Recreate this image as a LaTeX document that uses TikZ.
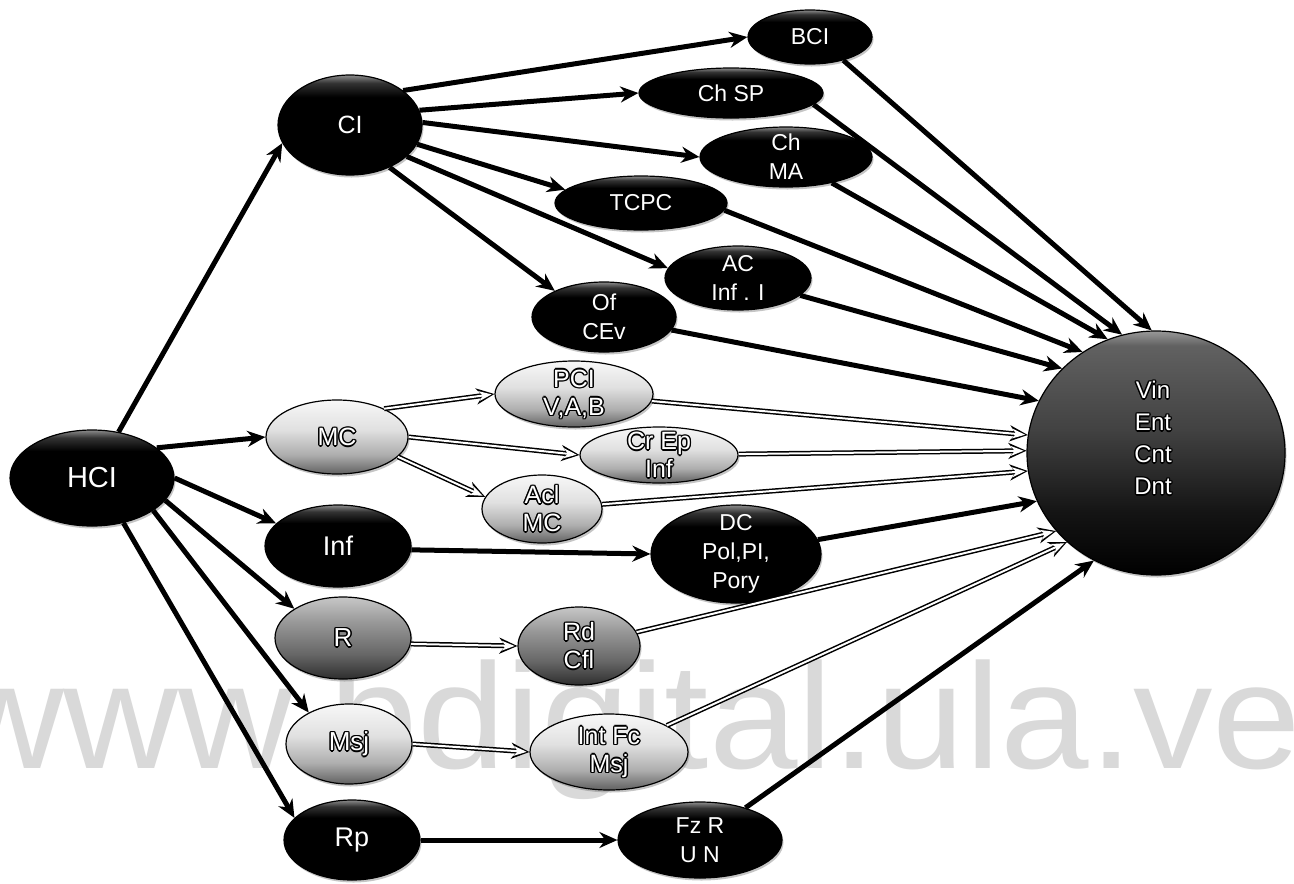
\documentclass[tikz,border=0pt]{standalone}
\usepackage{fontspec}
\setmainfont{Liberation Sans}
\usetikzlibrary{shapes.geometric,arrows.meta,shadows}

\pgfdeclareverticalshading{dkshade}{100bp}{color(0bp)=(black); color(25bp)=(black); color(64bp)=(black); color(71bp)=(black!80); color(75bp)=(black!45); color(100bp)=(black!45)}
\pgfdeclareverticalshading{ltshade}{100bp}{color(0bp)=(black!62); color(25bp)=(black!62); color(38bp)=(black!32); color(55bp)=(black!12); color(75bp)=(black!3); color(100bp)=(black!3)}
\pgfdeclareverticalshading{mdshade}{100bp}{color(0bp)=(black!82); color(25bp)=(black!82); color(40bp)=(black!60); color(60bp)=(black!40); color(75bp)=(black!22); color(100bp)=(black!22)}
\pgfdeclareverticalshading{bigshade}{100bp}{color(0bp)=(black); color(25bp)=(black); color(38bp)=(black!92); color(55bp)=(black!74); color(72bp)=(black!62); color(75bp)=(black!40); color(100bp)=(black!40)}

\newcommand\olt[1]{{\leavevmode
 \rlap{\color{black}\kern-1.4pt#1}%
 \rlap{\color{black}\kern1.4pt#1}%
 \rlap{\color{black}\raisebox{1.4pt}{#1}}%
 \rlap{\color{black}\raisebox{-1.4pt}{#1}}%
 \rlap{\color{black}\kern-1pt\raisebox{1pt}{#1}}%
 \rlap{\color{black}\kern1pt\raisebox{1pt}{#1}}%
 \rlap{\color{black}\kern-1pt\raisebox{-1pt}{#1}}%
 \rlap{\color{black}\kern1pt\raisebox{-1pt}{#1}}%
 {\color{white}#1}}}

\begin{document}
\begin{tikzpicture}[x=1pt,y=-1pt,
  base/.style={ellipse, inner sep=0pt, line width=1.2pt, draw=black,
    drop shadow={shadow xshift=1.5pt, shadow yshift=-2.5pt, opacity=0.45}},
  dk/.style={base, shade, shading=dkshade},
  lt/.style={base, shade, shading=ltshade},
  md/.style={base, shade, shading=mdshade},
  dtxt/.style={text=white, align=center, inner sep=0pt, font=\fontsize{23}{29}\selectfont},
  ltxt/.style={align=center, inner sep=0pt, font=\fontsize{25}{28}\selectfont},
  darr/.style={draw=black, line width=5pt, -{Stealth[length=18pt,width=16pt]}},
  larr/.style={draw=black, line width=5pt, -{Stealth[length=18pt,width=16pt]},
    postaction={draw=white, line width=2pt, -{Stealth[length=13pt,width=10pt]}, shorten >=2.8pt}},
]
\useasboundingbox (0,0) rectangle (1294,884);
\fill[white] (0,0) rectangle (1294,884);

% watermark
\node[anchor=base west, text=black!15, inner sep=0pt, font=\fontsize{150}{150}\selectfont] (wm) at (-51,768) {\scalebox{1.06}[1]{www.bdigital.ula.ve}};

% shapes
\node[dk, minimum width=164pt, minimum height=96pt] (HCl) at (92,478) {};
\node[dk, minimum width=144pt, minimum height=100pt] (CI) at (350,125) {};
\node[dk, minimum width=124pt, minimum height=54pt] (BCl) at (810,37) {};
\node[dk, minimum width=184pt, minimum height=50pt] (ChSP) at (731,93) {};
\node[dk, minimum width=172pt, minimum height=60pt] (ChMA) at (786,157) {};
\node[dk, minimum width=172pt, minimum height=54pt] (TCPC) at (641,203) {};
\node[dk, minimum width=146pt, minimum height=64pt] (AC) at (738,278) {};
\node[dk, minimum width=144pt, minimum height=70pt] (Of) at (604,317) {};
\node[lt, minimum width=158pt, minimum height=66pt] (PCl) at (574,394) {};
\node[lt, minimum width=158pt, minimum height=56pt] (CrEp) at (659,455) {};
\node[lt, minimum width=120pt, minimum height=68pt] (Acl) at (542,509) {};
\node[dk, minimum width=170pt, minimum height=98pt] (DC) at (736,554) {};
\node[lt, minimum width=142pt, minimum height=74pt] (MC) at (337,437) {};
\node[dk, minimum width=146pt, minimum height=82pt] (Inf) at (338,546) {};
\node[md, minimum width=136pt, minimum height=82pt] (R) at (343,638) {};
\node[md, minimum width=122pt, minimum height=78pt] (Rd) at (579,646) {};
\node[lt, minimum width=126pt, minimum height=80pt] (Msj) at (349,744) {};
\node[lt, minimum width=158pt, minimum height=76pt] (IntFc) at (609,752) {};
\node[dk, minimum width=136pt, minimum height=80pt] (Rp) at (352,840) {};
\node[dk, minimum width=164pt, minimum height=76pt] (FzR) at (700,840) {};
\node[base, shade, shading=bigshade, minimum width=258pt, minimum height=244pt] (V) at (1156,453) {};

% connectors from HCl
\draw[darr] (HCl.60) -- (CI.195);
\draw[darr] (HCl.25) -- (MC.west);
\draw[darr] (HCl.east) -- (Inf.160);
\draw[darr] (HCl.-17) -- (R.149);
\draw[darr] (HCl.-28) -- (Msj.142);
\draw[darr] (HCl.-55) -- (Rp.159);
% from CI
\draw[darr] (CI.33) -- (BCl.west);
\draw[darr] (CI.12) -- (ChSP.west);
\draw[darr] (CI.2) -- (ChMA.west);
\draw[darr] (CI.-16) -- (TCPC.170);
\draw[darr] (CI.-29) -- (AC.172);
\draw[darr] (CI.-47) -- (Of.152);
% from MC
\draw[larr] (MC.31) -- (PCl.west);
\draw[larr] (MC.east) -- (CrEp.west);
\draw[larr] (MC.-18) -- (Acl.168);
% middle row
\draw[darr] (Inf.-3) -- (DC.west);
\draw[larr] (R.-5) -- (Rd.west);
\draw[larr] (Msj.east) -- (IntFc.west);
\draw[darr] (Rp.east) -- (FzR.west);
% into V
\draw[darr] (BCl.-35) -- (V.92);
\draw[darr] (ChSP.-8) -- (V.106);
\draw[darr] (ChMA) -- (V.113);
\draw[darr] (TCPC.-5) -- (V.126);
\draw[darr] (AC) -- (V.138);
\draw[darr] (Of) -- (V.156);
\draw[larr] (PCl) -- (V.172);
\draw[larr] (CrEp) -- (V.179);
\draw[larr] (Acl) -- (V.188);
\draw[darr] (DC) -- (V.202);
\draw[larr] (Rd) -- (V.218);
\draw[larr] (IntFc) -- (V.225);
\draw[darr] (FzR) -- (V.240);

% texts
\node[dtxt, font=\fontsize{29}{32}\selectfont] (HClt) at (HCl) {HCI};
\node[dtxt, font=\fontsize{25}{29}\selectfont] (CIt) at (CI) {CI};
\node[dtxt] (BClt) at (BCl) {BCI};
\node[dtxt] (ChSPt) at (ChSP) {Ch SP};
\node[dtxt] (ChMAt) at (ChMA) {Ch\\MA};
\node[dtxt] (TCPCt) at (TCPC) {TCPC};
\node[dtxt] (ACt) at (AC) {AC\\Inf . I};
\node[dtxt] (Oft) at (Of) {Of\\CEv};
\node[dtxt] (DCt) at (DC) {DC\\Pol,PI,\\Pory};
\node[dtxt, font=\fontsize{27}{30}\selectfont] (Inft) at (Inf) {Inf};
\node[dtxt, font=\fontsize{27}{30}\selectfont] (Rpt) at (Rp) {Rp};
\node[dtxt] (FzRt) at (FzR) {Fz R\\U N};
\node[ltxt] (PClt) at (PCl) {\olt{PCI}\\\olt{V,A,B}};
\node[ltxt] (CrEpt) at (CrEp) {\olt{Cr Ep}\\\olt{Inf}};
\node[ltxt] (Aclt) at (Acl) {\olt{Acl}\\\olt{MC}};
\node[ltxt] (MCt) at (MC) {\olt{MC}};
\node[ltxt, font=\fontsize{26}{28}\selectfont] (Rt) at (R) {\olt{R}};
\node[ltxt] (Rdt) at (Rd) {\olt{Rd}\\\olt{Cfl}};
\node[ltxt, font=\fontsize{26}{28}\selectfont] (Msjt) at (Msj) {\olt{Msj}};
\node[ltxt] (IntFct) at (IntFc) {\olt{Int Fc}\\\olt{Msj}};
\node[ltxt, font=\fontsize{24}{32}\selectfont] (Vt) at (1153,438) {\olt{Vin}\\\olt{Ent}\\\olt{Cnt}\\\olt{Dnt}};
\end{tikzpicture}
\end{document}
